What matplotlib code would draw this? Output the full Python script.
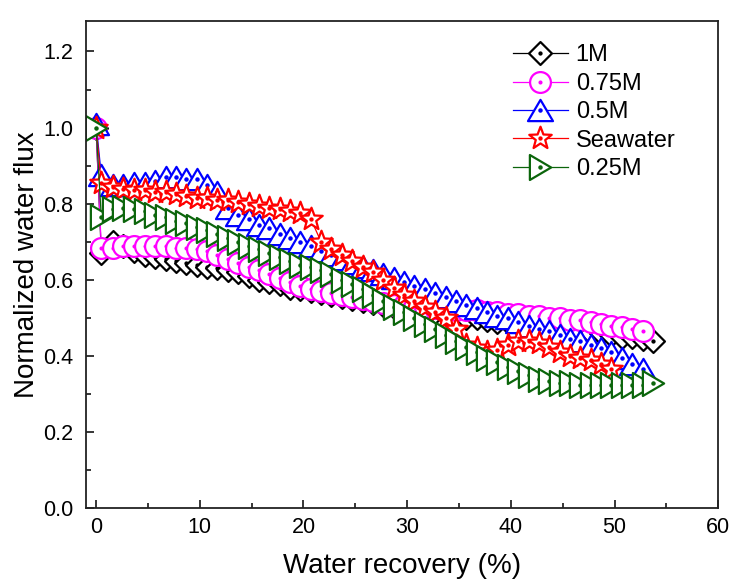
import matplotlib
matplotlib.use('Agg')
import matplotlib.pyplot as plt
from matplotlib.path import Path
from matplotlib.ticker import MultipleLocator

# ---------------- data ----------------
recovery = [0, 0.5, 1.6, 2.6, 3.7, 4.7, 5.7, 6.7, 7.7, 8.7, 9.7,
            10.7, 11.7, 12.7, 13.7, 14.7, 15.7, 16.7, 17.7, 18.7, 19.7,
            20.7, 21.7, 22.7, 23.7, 24.7, 25.7, 26.7, 27.7, 28.7, 29.7,
            30.7, 31.7, 32.7, 33.7, 34.7, 35.7, 36.7, 37.7, 38.7, 39.7,
            40.7, 41.7, 42.7, 43.7, 44.7, 45.7, 46.7, 47.7, 48.7, 49.7,
            50.7, 51.7, 52.7, 53.7]

flux_1M = [1.0, 0.67, 0.70, 0.69, 0.675, 0.665, 0.66, 0.655, 0.65, 0.645, 0.64,
           0.635, 0.63, 0.625, 0.62, 0.61, 0.60, 0.595, 0.59, 0.58, 0.575,
           0.57, 0.565, 0.56, 0.555, 0.55, 0.545, 0.54, 0.535, 0.53, 0.525,
           0.52, 0.52, 0.515, 0.51, 0.505, 0.50, 0.50, 0.495, 0.49, 0.49,
           0.485, 0.48, 0.48, 0.475, 0.47, 0.47, 0.465, 0.46, 0.46, 0.455,
           0.45, 0.45, 0.445, 0.44]

flux_075M = [1.0, 0.685, 0.685, 0.69, 0.69, 0.69, 0.69, 0.69, 0.685, 0.685, 0.68,
             0.675, 0.665, 0.655, 0.645, 0.635, 0.625, 0.615, 0.605, 0.595, 0.585,
             0.575, 0.57, 0.565, 0.56, 0.555, 0.55, 0.545, 0.54, 0.535, 0.535,
             0.53, 0.53, 0.525, 0.525, 0.52, 0.52, 0.52, 0.515, 0.515, 0.51,
             0.51, 0.505, 0.505, 0.50, 0.50, 0.495, 0.495, 0.49, 0.485, 0.48,
             0.475, 0.47, 0.465]

flux_05M = [1.01, 0.875, 0.85, 0.85, 0.855, 0.855, 0.86, 0.87, 0.87, 0.865, 0.865,
            0.85, 0.83, 0.79, 0.77, 0.76, 0.745, 0.735, 0.72, 0.71, 0.70,
            0.69, 0.675, 0.665, 0.655, 0.645, 0.635, 0.625, 0.615, 0.605, 0.595,
            0.585, 0.575, 0.565, 0.555, 0.545, 0.535, 0.525, 0.515, 0.505, 0.50,
            0.49, 0.48, 0.47, 0.465, 0.455, 0.445, 0.44, 0.43, 0.42, 0.41,
            0.395, 0.38, 0.365]

flux_sea = [1.0, 0.855, 0.845, 0.84, 0.835, 0.835, 0.83, 0.83, 0.825, 0.82, 0.815,
            0.815, 0.81, 0.81, 0.805, 0.80, 0.795, 0.79, 0.785, 0.78, 0.775,
            0.76, 0.70, 0.68, 0.665, 0.65, 0.635, 0.62, 0.60, 0.58, 0.56,
            0.545, 0.53, 0.515, 0.50, 0.47, 0.43, 0.42, 0.41, 0.415, 0.43,
            0.44, 0.44, 0.435, 0.425, 0.41, 0.40, 0.395, 0.39, 0.38, 0.365]

flux_025M = [1.0, 0.765, 0.785, 0.79, 0.785, 0.78, 0.77, 0.765, 0.755, 0.75, 0.74,
             0.73, 0.72, 0.71, 0.70, 0.69, 0.68, 0.67, 0.66, 0.65, 0.64,
             0.633, 0.625, 0.615, 0.60, 0.59, 0.575, 0.56, 0.545, 0.53, 0.515,
             0.50, 0.485, 0.47, 0.455, 0.44, 0.425, 0.41, 0.395, 0.385, 0.37,
             0.36, 0.35, 0.34, 0.335, 0.33, 0.33, 0.325, 0.325, 0.325, 0.325,
             0.325, 0.325, 0.325, 0.33]

labels = ['1M', '0.75M', '0.5M', 'Seawater', '0.25M']
series = [flux_1M, flux_075M, flux_05M, flux_sea, flux_025M]
colors = ['#000000', '#FF00FF', '#0000FF', '#FF0000', '#0B650B']

x_ticks = [0, 10, 20, 30, 40, 50, 60]
y_ticks = [0.0, 0.2, 0.4, 0.6, 0.8, 1.0, 1.2]

# ---------------- marker shapes (outline + centre dot) ----------------
C = Path.CLOSEPOLY
L = Path.LINETO
M = Path.MOVETO


def poly(verts):
    verts = list(verts) + [verts[0]]
    codes = [M] + [L] * (len(verts) - 2) + [C]
    return Path(verts, codes)


dot = Path.circle((0, 0), 0.09)
shape_diamond = poly([(0, 1), (1, 0), (0, -1), (-1, 0)])
shape_circle = Path.unit_circle()
shape_up = poly([(0, 0.85), (-1, -0.85), (1, -0.85)])
star = Path.unit_regular_star(5, 0.42)
shape_star = Path(star.vertices, star.codes)
shape_right = poly([(0.85, 0), (-0.85, 1), (-0.85, -1)])

markers = [Path.make_compound_path(s, dot) for s in
           [shape_diamond, shape_circle, shape_up, shape_star, shape_right]]
msizes = [16.5, 15, 18, 17, 18]

# ---------------- figure ----------------
plt.rcParams['font.family'] = ['Liberation Sans', 'DejaVu Sans']
fig = plt.figure(figsize=(7.29, 5.79), dpi=100)
ax = fig.add_axes([0.1176, 0.1221, 0.8677, 0.8416])

for ys, lab, col, mk, ms in zip(series, labels, colors, markers, msizes):
    xs = recovery[:len(ys)]
    ax.plot(xs, ys, color=col, lw=0.9, marker=mk, markersize=ms,
            markerfacecolor='white', markeredgecolor=col,
            markeredgewidth=1.6, label=lab)

ax.set_xlim(-1, 60)
ax.set_ylim(0, 1.28)
ax.set_xticks(x_ticks)
ax.set_yticks(y_ticks)
ax.set_yticklabels([f'{v:.1f}' for v in y_ticks])
ax.xaxis.set_minor_locator(MultipleLocator(5))
ax.yaxis.set_minor_locator(MultipleLocator(0.1))
ax.tick_params(which='both', direction='in', top=False, right=False,
               labelsize=15.5, width=1.1, color='black')
ax.tick_params(which='major', length=6)
ax.tick_params(axis='y', which='major', pad=9)
ax.tick_params(axis='x', which='major', pad=6)
ax.tick_params(which='minor', length=3.5)
for sp in ax.spines.values():
    sp.set_linewidth(1.3)
    sp.set_color('#222222')

ax.set_xlabel('Water recovery (%)', fontsize=20, labelpad=11)
ax.set_ylabel('Normalized water flux', fontsize=20, labelpad=2)

leg = ax.legend(loc='upper left', bbox_to_anchor=(0.675, 0.952), frameon=False,
                fontsize=17, handlelength=2.33, handletextpad=0.34,
                labelspacing=0.27, borderpad=0.0, borderaxespad=0.0,
                numpoints=1)

fig.savefig('out.png', dpi=100)
